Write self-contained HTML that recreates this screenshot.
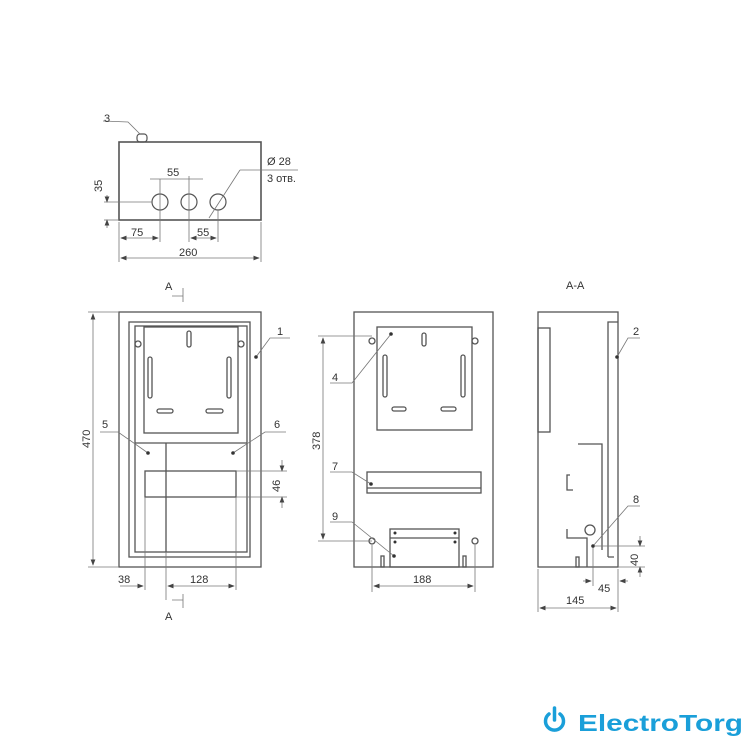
<!DOCTYPE html>
<html><head><meta charset="utf-8"><style>
body{margin:0;background:#fff;width:750px;height:750px;overflow:hidden}
svg text{font-family:"Liberation Sans",sans-serif;fill:#333}
</style></head><body>
<svg width="750" height="750" viewBox="0 0 750 750" xmlns="http://www.w3.org/2000/svg">
<defs><marker id="a" markerWidth="8" markerHeight="6" refX="7" refY="3" orient="auto-start-reverse"><path d="M0,0L8,3L0,6z" fill="#444"/></marker></defs>
<g stroke="#555" fill="none" stroke-width="1.2">
<rect x="119" y="142" width="142" height="78" stroke-width="1.6"/>
<rect x="137" y="134" width="10" height="8" rx="3"/>
<circle cx="160" cy="202" r="8"/><circle cx="189" cy="202" r="8"/><circle cx="218" cy="202" r="8"/>
</g>
<g stroke="#777" fill="none" stroke-width="0.8">
<line x1="119" y1="222" x2="119" y2="262"/><line x1="261" y1="222" x2="261" y2="262"/>
<line x1="121" y1="258" x2="259" y2="258" marker-start="url(#a)" marker-end="url(#a)"/>
<line x1="160" y1="194" x2="160" y2="242"/><line x1="189" y1="176" x2="189" y2="242"/><line x1="218" y1="210" x2="218" y2="242"/>
<line x1="121" y1="238" x2="158" y2="238" marker-start="url(#a)" marker-end="url(#a)"/>
<line x1="191" y1="238" x2="216" y2="238" marker-start="url(#a)" marker-end="url(#a)"/>
<line x1="150" y1="179" x2="203" y2="179"/><line x1="160" y1="179" x2="160" y2="194"/>
<line x1="104" y1="202" x2="152" y2="202"/><line x1="104" y1="220" x2="119" y2="220"/>
<line x1="107" y1="195" x2="107" y2="202" marker-end="url(#a)"/><line x1="107" y1="228" x2="107" y2="220" marker-end="url(#a)"/>
<line x1="240" y1="170" x2="298" y2="170"/><line x1="240" y1="170" x2="209" y2="218"/>
<path d="M103,121 L128,122 L140,134"/>
</g>
<g font-size="11">
<text x="104" y="122">3</text>
<text x="167" y="176">55</text>
<text x="131" y="236">75</text>
<text x="197" y="236">55</text>
<text x="179" y="256">260</text>
<text x="267" y="165">Ø 28</text>
<text x="267" y="182">3 отв.</text>
<text transform="translate(102,192) rotate(-90)">35</text>
</g>
<g stroke="#555" fill="none" stroke-width="1.3">
<rect x="119" y="312" width="142" height="255"/>
<rect x="129" y="322" width="121" height="235"/>
<rect x="135" y="326" width="112" height="226"/>
<rect x="144" y="327" width="94" height="106"/>
<line x1="135" y1="443" x2="247" y2="443"/>
<line x1="166" y1="443" x2="166" y2="552"/>
<rect x="145" y="471" width="91" height="26"/>
<rect x="187" y="331" width="4" height="16" rx="2"/>
<rect x="148" y="357" width="4" height="41" rx="2"/><rect x="227" y="357" width="4" height="41" rx="2"/>
<rect x="157" y="409" width="16" height="4" rx="2"/><rect x="206" y="409" width="17" height="4" rx="2"/>
<circle cx="138" cy="344" r="3"/><circle cx="241" cy="344" r="3"/>
</g>
<g stroke="#777" fill="none" stroke-width="0.8">
<line x1="145" y1="497" x2="145" y2="590"/><line x1="236" y1="497" x2="236" y2="590"/><line x1="166" y1="552" x2="166" y2="600"/>
<line x1="120" y1="586" x2="143" y2="586" marker-end="url(#a)"/><line x1="168" y1="586" x2="234" y2="586" marker-start="url(#a)" marker-end="url(#a)"/>
<line x1="236" y1="471" x2="287" y2="471"/><line x1="236" y1="497" x2="287" y2="497"/>
<line x1="282" y1="460" x2="282" y2="471" marker-end="url(#a)"/><line x1="282" y1="508" x2="282" y2="497" marker-end="url(#a)"/>
<line x1="88" y1="312" x2="119" y2="312"/><line x1="88" y1="567" x2="119" y2="567"/>
<line x1="93" y1="314" x2="93" y2="565" marker-start="url(#a)" marker-end="url(#a)"/>
<path d="M290,338 L270,338 L256,357"/><path d="M100,432 L118,432 L148,453"/><path d="M286,432 L265,432 L233,453"/>
<path d="M183,288 L183,302 M172,296 L183,296"/><path d="M183,594 L183,608 M172,600 L183,600"/>
</g>
<g fill="#333"><circle cx="256" cy="357" r="1.8"/><circle cx="148" cy="453" r="1.8"/><circle cx="233" cy="453" r="1.8"/></g>
<g font-size="11">
<text x="277" y="335">1</text><text x="102" y="428">5</text><text x="274" y="428">6</text>
<text x="118" y="583">38</text><text x="190" y="583">128</text>
<text transform="translate(280,492) rotate(-90)">46</text>
<text transform="translate(90,448) rotate(-90)">470</text>
<text x="165" y="290">A</text><text x="165" y="620">A</text>
<text x="566" y="289">A-A</text>
</g>
<g stroke="#555" fill="none" stroke-width="1.3">
<rect x="354" y="312" width="139" height="255"/>
<rect x="377" y="327" width="95" height="103"/>
<rect x="422" y="333" width="4" height="13" rx="2"/>
<rect x="383" y="355" width="4" height="42" rx="2"/><rect x="461" y="355" width="4" height="42" rx="2"/>
<rect x="392" y="407" width="14" height="4" rx="2"/><rect x="441" y="407" width="15" height="4" rx="2"/>
<rect x="367" y="472" width="114" height="21"/><line x1="367" y1="488" x2="481" y2="488"/>
<rect x="390" y="529" width="69" height="38"/><line x1="390" y1="538" x2="459" y2="538"/>
<circle cx="372" cy="341" r="3"/><circle cx="475" cy="341" r="3"/><circle cx="372" cy="541" r="3"/><circle cx="475" cy="541" r="3"/>
<rect x="381" y="556" width="3" height="11"/><rect x="463" y="556" width="3" height="11"/>
</g>
<g stroke="#777" fill="none" stroke-width="0.8">
<line x1="318" y1="336" x2="372" y2="336"/><line x1="318" y1="541" x2="372" y2="541"/>
<line x1="323" y1="338" x2="323" y2="539" marker-start="url(#a)" marker-end="url(#a)"/>
<line x1="372" y1="545" x2="372" y2="592"/><line x1="475" y1="545" x2="475" y2="592"/>
<line x1="374" y1="586" x2="473" y2="586" marker-start="url(#a)" marker-end="url(#a)"/>
<path d="M330,383 L352,383 L391,334"/><path d="M330,472 L352,472 L371,484"/><path d="M330,522 L352,522 L394,556"/>
</g>
<g fill="#333"><circle cx="391" cy="334" r="1.8"/><circle cx="371" cy="484" r="1.8"/><circle cx="394" cy="556" r="1.8"/><circle cx="395" cy="533" r="1.5"/><circle cx="455" cy="533" r="1.5"/><circle cx="395" cy="542" r="1.5"/><circle cx="455" cy="542" r="1.5"/></g>
<g font-size="11">
<text x="332" y="381">4</text><text x="332" y="470">7</text><text x="332" y="520">9</text>
<text transform="translate(320,450) rotate(-90)">378</text><text x="413" y="583">188</text>
</g>
<g stroke="#555" fill="none" stroke-width="1.3">
<rect x="538" y="312" width="80" height="255"/>
<rect x="538" y="328" width="12" height="104"/>
<path d="M608,557 L608,322 L618,322 M608,557 L614,557"/>
<path d="M578,444 L602,444 L602,550"/>
<path d="M570,475 L567,475 L567,490 L573,490"/>
<circle cx="590" cy="530" r="5"/>
<path d="M567,529 L567,538 L587,538 L587,567"/>
<rect x="576" y="557" width="3" height="10"/>
</g>
<g stroke="#777" fill="none" stroke-width="0.8">
<line x1="538" y1="569" x2="538" y2="612"/><line x1="618" y1="569" x2="618" y2="612"/><line x1="593" y1="546" x2="593" y2="586"/>
<line x1="540" y1="608" x2="616" y2="608" marker-start="url(#a)" marker-end="url(#a)"/>
<line x1="583" y1="581" x2="591" y2="581" marker-end="url(#a)"/><line x1="628" y1="581" x2="620" y2="581" marker-end="url(#a)"/>
<line x1="595" y1="546" x2="645" y2="546"/><line x1="618" y1="567" x2="645" y2="567"/>
<line x1="640" y1="536" x2="640" y2="546" marker-end="url(#a)"/><line x1="640" y1="577" x2="640" y2="567" marker-end="url(#a)"/>
<path d="M640,338 L628,338 L617,357"/><path d="M640,506 L628,506 L593,546"/>
</g>
<g fill="#333"><circle cx="617" cy="357" r="1.8"/><circle cx="593" cy="546" r="1.8"/></g>
<g font-size="11">
<text x="633" y="335">2</text><text x="633" y="503">8</text>
<text x="598" y="592">45</text><text x="566" y="604">145</text>
<text transform="translate(638,566) rotate(-90)">40</text>
</g>
<g stroke="#1a9fd9" stroke-width="3.5" fill="none" stroke-linecap="round">
<path d="M549,714 A9,9 0 1,0 560,714"/><line x1="554.5" y1="708" x2="554.5" y2="720"/>
</g>
<text x="578" y="731" font-size="23" font-weight="bold" textLength="165" lengthAdjust="spacingAndGlyphs" style="fill:#1a9fd9">ElectroTorg</text>
</svg>
</body></html>
